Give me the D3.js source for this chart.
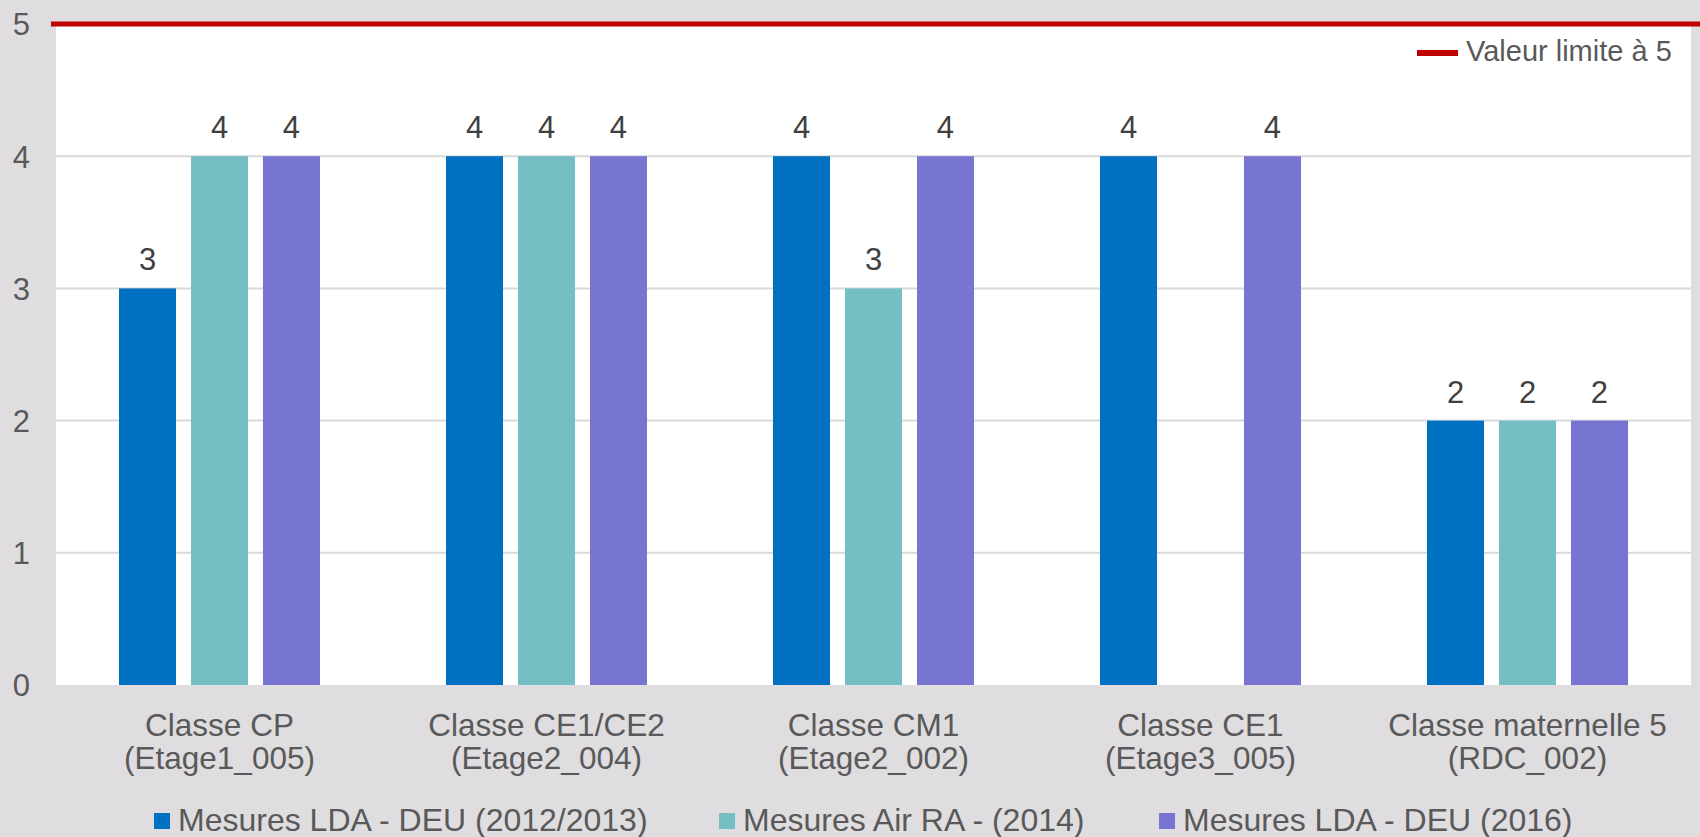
<!DOCTYPE html>
<html>
<head>
<meta charset="utf-8">
<script src="https://cdn.jsdelivr.net/npm/d3@7"></script>
<style>
  html, body { margin: 0; padding: 0; background: #DFDDDF; }
  svg { display: block; }
  text { font-family: "Liberation Sans", Arial, sans-serif; }
</style>
</head>
<body>
<div id="chart"></div>
<script>
// ---- data ----
const categoriesLine1 = ["Classe CP", "Classe CE1/CE2", "Classe CM1", "Classe CE1", "Classe maternelle 5"];
const categoriesLine2 = ["(Etage1_005)", "(Etage2_004)", "(Etage2_002)", "(Etage3_005)", "(RDC_002)"];
const seriesNames = ["Mesures LDA - DEU (2012/2013)", "Mesures Air RA - (2014)", "Mesures LDA - DEU (2016)"];
const seriesLDA2012 = [3, 4, 4, 4, 2];
const seriesAirRA2014 = [4, 4, 3, null, 2];
const seriesLDA2016 = [4, 4, 4, 4, 2];
const limitValue = 5;
const limitLabel = "Valeur limite à 5";
const yTicks = [0, 1, 2, 3, 4, 5];

// ---- layout / style ----
const W = 1700, H = 837;
const plot = { left: 56, right: 1691, top: 24, bottom: 685 };
const colors = ["#0070C0", "#75BFC4", "#7775D1"];
const textColor = "#595959";
const legendX = [154, 719, 1159];

const seriesValues = [seriesLDA2012, seriesAirRA2014, seriesLDA2016];

const svg = d3.select("#chart").append("svg")
  .attr("width", W).attr("height", H);

svg.append("rect").attr("width", W).attr("height", H).attr("fill", "#DFDDDF");

const x0 = d3.scaleBand()
  .domain(d3.range(categoriesLine1.length))
  .range([plot.left, plot.right])
  .padding(0);

const x1 = d3.scaleBand()
  .domain(d3.range(seriesNames.length))
  .range([0, x0.bandwidth()])
  .paddingInner(0.208)
  .paddingOuter(0.875);

const y = d3.scaleLinear().domain([0, 5]).range([plot.bottom, plot.top]);

// plot background
svg.append("rect")
  .attr("x", plot.left).attr("y", plot.top)
  .attr("width", plot.right - plot.left).attr("height", plot.bottom - plot.top)
  .attr("fill", "#FFFFFF");

// gridlines
svg.append("g")
  .selectAll("line")
  .data(yTicks.filter(t => t > 0 && t < 5))
  .join("line")
  .attr("x1", plot.left).attr("x2", plot.right)
  .attr("y1", d => y(d)).attr("y2", d => y(d))
  .attr("stroke", "#D9D9D9").attr("stroke-width", 2);

// y axis labels
const yAxis = d3.axisLeft(y).tickValues(yTicks).tickSize(0).tickPadding(0).tickFormat(d3.format("d"));
const gy = svg.append("g").attr("transform", `translate(30,0)`).call(yAxis);
gy.select(".domain").remove();
gy.selectAll("text")
  .attr("fill", textColor)
  .style("font-size", "31px")
  .style("font-family", '"Liberation Sans", Arial, sans-serif')
  .attr("dy", "0.35em");

// bars
const groups = svg.append("g").selectAll("g")
  .data(d3.range(categoriesLine1.length))
  .join("g")
  .attr("transform", i => `translate(${x0(i)},0)`);

groups.selectAll("rect")
  .data(i => seriesValues.map((s, k) => ({ k, v: s[i] })).filter(d => d.v != null))
  .join("rect")
  .attr("x", d => x1(d.k))
  .attr("width", x1.bandwidth())
  .attr("y", d => y(d.v))
  .attr("height", d => y(0) - y(d.v))
  .attr("fill", d => colors[d.k]);

groups.selectAll("text.lbl")
  .data(i => seriesValues.map((s, k) => ({ k, v: s[i] })).filter(d => d.v != null))
  .join("text")
  .attr("class", "lbl")
  .attr("x", d => x1(d.k) + x1.bandwidth() / 2)
  .attr("y", d => y(d.v) - 18)
  .attr("text-anchor", "middle")
  .attr("fill", "#404040")
  .style("font-size", "31px")
  .text(d => d.v);

// category labels
const cat = svg.append("g").selectAll("text")
  .data(d3.range(categoriesLine1.length))
  .join("text")
  .attr("text-anchor", "middle")
  .attr("fill", textColor)
  .style("font-size", "31.5px");
cat.append("tspan")
  .attr("x", i => x0(i) + x0.bandwidth() / 2)
  .attr("y", 736)
  .text(i => categoriesLine1[i]);
cat.append("tspan")
  .attr("x", i => x0(i) + x0.bandwidth() / 2)
  .attr("y", 769)
  .text(i => categoriesLine2[i]);

// limit line
svg.append("line")
  .attr("x1", 51).attr("x2", W)
  .attr("y1", y(limitValue)).attr("y2", y(limitValue))
  .attr("stroke", "#C00000").attr("stroke-width", 5);

// limit legend
svg.append("line")
  .attr("x1", 1417).attr("x2", 1458)
  .attr("y1", 53).attr("y2", 53)
  .attr("stroke", "#C00000").attr("stroke-width", 6);
svg.append("text")
  .attr("x", 1466).attr("y", 61)
  .attr("fill", textColor)
  .style("font-size", "29px")
  .text(limitLabel);

// bottom legend
const leg = svg.append("g").selectAll("g")
  .data(seriesNames)
  .join("g")
  .attr("transform", (d, i) => `translate(${legendX[i]},0)`);
leg.append("rect")
  .attr("x", 0).attr("y", 813)
  .attr("width", 16).attr("height", 16)
  .attr("fill", (d, i) => colors[i]);
leg.append("text")
  .attr("x", 24).attr("y", 831)
  .attr("fill", textColor)
  .style("font-size", "32px")
  .text(d => d);
</script>
</body>
</html>
